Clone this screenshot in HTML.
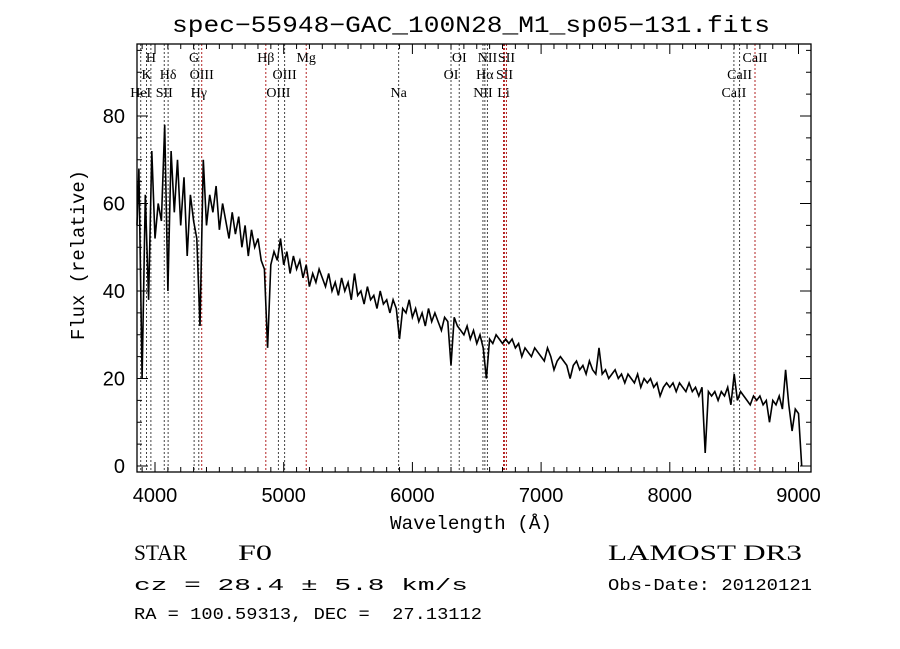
<!DOCTYPE html>
<html><head><meta charset="utf-8"><style>
html,body{margin:0;padding:0;background:#fff;width:900px;height:649px;overflow:hidden}
svg{display:block;font-family:"Liberation Serif",serif}
</style></head><body>
<svg id="chart" width="900" height="649" viewBox="0 0 900 649">
<text x="471" y="32" font-size="23" text-anchor="middle" textLength="598" lengthAdjust="spacingAndGlyphs" font-family="Liberation Mono, monospace">spec−55948−GAC_100N28_M1_sp05−131.fits</text>
<g id="lines"></g>
<g id="axes"></g>
<path id="spec" fill="none" stroke="#000" stroke-width="1.6"></path>
<text x="390" y="529" font-size="19" textLength="162" lengthAdjust="spacingAndGlyphs" font-family="Liberation Mono, monospace">Wavelength (Å)</text>
<text transform="translate(84,340) rotate(-90)" font-size="19" textLength="170" lengthAdjust="spacingAndGlyphs" font-family="Liberation Mono, monospace">Flux (relative)</text>
<text x="134" y="560" font-size="22" textLength="53" lengthAdjust="spacingAndGlyphs">STAR</text>
<text x="238" y="560" font-size="22" textLength="34" lengthAdjust="spacingAndGlyphs">F0</text>
<text x="608" y="560" font-size="22" textLength="194" lengthAdjust="spacingAndGlyphs">LAMOST DR3</text>
<text x="134" y="590" font-size="17" textLength="334" lengthAdjust="spacingAndGlyphs" font-family="Liberation Mono, monospace">cz = 28.4 ± 5.8 km/s</text>
<text x="608" y="590" font-size="17" textLength="204" lengthAdjust="spacingAndGlyphs" font-family="Liberation Mono, monospace">Obs-Date: 20120121</text>
<text x="134" y="619" font-size="17" textLength="348" lengthAdjust="spacingAndGlyphs" font-family="Liberation Mono, monospace" xml:space="preserve">RA = 100.59313, DEC =  27.13112</text>
</svg>
<script>
const wlStart = 3850, wlStep = 25;
const flux = [55,68,20,62,38,72,52,60,56,78,40,72,58,70,55,66,48,62,56,52,32,70,55,62,58,64,54,60,56,52,58,53,57,50,55,48,54,50,52,47,45,27,46,49,47,52,46,49,44,48,45,47,43,46,41,44,42,45,43,41,44,40,42,39,43,40,42,38,44,39,40,37,41,38,39,36,40,37,38,35,38,36,29,36,35,38,34,36,33,35,32,36,33,35,33,31,34,33,23,34,32,31,30,32,29,31,28,30,27,20,29,28,30,29,28,29,28,29,27,28,25,27,26,25,27,26,25,24,27,25,22,24,25,24,23,20,23,24,22,23,21,24,22,21,27,21,22,20,21,22,20,21,19,21,20,19,21,18,20,19,20,18,19,16,18,19,18,19,17,19,18,17,19,17,18,16,18,3,17,16,17,15,17,16,18,14,21,15,17,16,15,14,16,15,16,14,15,10,15,14,16,13,22,14,8,13,12,0];
const lineWl = [3889,3934,3968,4072,4102,4304,4340,4363,4861,4959,5007,5175,5893,6300,6364,6548,6563,6583,6708,6716,6731,8498,8542,8662];
const lineLabels = ["HeI","K","H","SII","Hδ","G","Hγ","OIII","Hβ","OIII","OIII","Mg","Na","OI","OI","NII","Hα","NII","Li","SII","SII","CaII","CaII","CaII"];
const lineRows = [3,2,1,3,2,1,3,2,1,3,2,1,3,2,1,3,2,1,3,2,1,3,2,1];
const lineRed = [0,0,0,0,0,0,0,1,1,0,0,1,0,0,0,0,0,0,1,1,1,0,0,1];
const xTicks = [4000,5000,6000,7000,8000,9000];
const yTicks = [0,20,40,60,80];
const L=137,R=811,T=44,B=472;
const X=w=>155+(w-4000)*0.1287;
const Y=f=>466-f*4.375;
const ns="http://www.w3.org/2000/svg";
function mk(tag,attrs,parent,txt){const e=document.createElementNS(ns,tag);for(const k in attrs)e.setAttribute(k,attrs[k]);if(txt!==undefined)e.textContent=txt;parent.appendChild(e);return e;}
const ax=document.getElementById('axes');
const frame=mk('rect',{x:L,y:T,width:R-L,height:B-T,fill:'none',stroke:'#000','stroke-width':1.3},ax);


for(let w=3900;w<=9100;w+=100){const x=X(w);if(x<L||x>R)continue;const len=(w%1000===0)?10:5;
 const t1=mk('line',{x1:x,x2:x,y1:B,y2:B-len,stroke:'#000'},ax);
 
 
 const t2=mk('line',{x1:x,x2:x,y1:T,y2:T+len,stroke:'#000'},ax);
 
 }
for(const w of xTicks){const t=mk('text',{x:X(w),y:B+30,'font-size':20,'text-anchor':'middle','font-family':'Liberation Sans, sans-serif'},ax,String(w));
 
 }
for(let f=0;f<=95;f+=5){const y=Y(f);const len=(f%20===0)?11:5;
 const t1=mk('line',{x1:L,x2:L+len,y1:y,y2:y,stroke:'#000'},ax);
 
 
 const t2=mk('line',{x1:R,x2:R-len,y1:y,y2:y,stroke:'#000'},ax);
 
 }
for(const f of yTicks){const t=mk('text',{x:L-12,y:Y(f)+7,'font-size':20,'text-anchor':'end','font-family':'Liberation Sans, sans-serif'},ax,String(f));
 
 }
const lg=document.getElementById('lines');
const rowY={1:62,2:79,3:97};
lineWl.forEach((w,i)=>{const x=X(w);
 const l=mk('line',{x1:x,x2:x,y1:T,y2:B,stroke:lineRed[i]?'#b22222':'#444','stroke-width':1,'stroke-dasharray':'2,2'},lg);
 
 
 const t=mk('text',{x:x,y:rowY[lineRows[i]],'font-size':14,'text-anchor':'middle'},lg,lineLabels[i]);
 
 });
let d='';flux.forEach((f,i)=>{const w=wlStart+i*wlStep;let x=X(w);x=Math.max(L,Math.min(R,x));let y=Math.max(T,Math.min(B,Y(f)));d+=(i?'L':'M')+x.toFixed(1)+','+y.toFixed(1);});
document.getElementById('spec').setAttribute('d',d);
</script>
</body></html>
